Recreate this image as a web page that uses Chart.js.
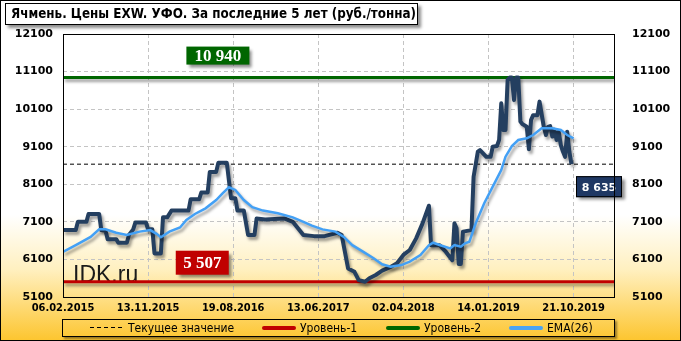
<!DOCTYPE html>
<html>
<head>
<meta charset="utf-8">
<script src="https://cdn.jsdelivr.net/npm/chart.js@4.4.0/dist/chart.umd.min.js"></script>
<style>
html, body { margin: 0; padding: 0; }
#wrap {
    position: relative; width: 681px; height: 341px; overflow: hidden;
    background: linear-gradient(to bottom, #ffffff 0%, #ffffff 63%, #fff0c0 79%, #fdc52e 100%);
    font-family: "DejaVu Sans Condensed", "DejaVu Sans", sans-serif;
}
#chart { position: absolute; left: 0; top: 0; }
#frame { position: absolute; inset: 0; border: 1px solid #000; box-sizing: border-box; pointer-events: none; }
#title {
    position: absolute; left: 5px; top: 3px; width: 413px; height: 22px; box-sizing: border-box;
    background: #fff; border: 1px solid #000; box-shadow: 3px 3px 3px rgba(0,0,0,0.45);
    font-weight: bold; font-size: 13.3px; line-height: 20px; padding-left: 5px; color: #000; white-space: nowrap;
}
#legend {
    position: absolute; left: 62px; top: 319px; width: 553px; height: 18px; box-sizing: border-box;
    border: 1px solid #000; box-shadow: 2px 2px 2px rgba(0,0,0,0.4);
    font-size: 12px; line-height: 16px; color: #000;
}
#legend .item { position: absolute; top: 0; white-space: nowrap; }
#legend .sw { display: inline-block; width: 34px; height: 4px; vertical-align: middle; margin-right: 4px; position: relative; top: -1px; border-radius: 2px; }
#legend .dash { height: 1px; border-radius: 0; background: repeating-linear-gradient(to right, #000 0 4px, transparent 4px 7px); }
</style>
</head>
<body>
<div id="wrap">
    <canvas id="chart" width="681" height="341"></canvas>
    <div id="title">Ячмень. Цены EXW. УФО. За последние 5 лет (руб./тонна)</div>
    <div id="legend">
        <span class="item" style="left:27px"><i class="sw dash"></i>Текущее значение</span>
        <span class="item" style="left:199px"><i class="sw" style="background:#c00000"></i>Уровень-1</span>
        <span class="item" style="left:323px"><i class="sw" style="background:#006600"></i>Уровень-2</span>
        <span class="item" style="left:446px"><i class="sw" style="background:#4aa3f2"></i>EMA(26)</span>
    </div>
    <div id="frame"></div>
</div>
<script>
// weekly index on x, a date label every 40 weeks
const dateLabels = ['06.02.2015', '13.11.2015', '19.08.2016', '13.06.2017', '02.04.2018', '14.01.2019', '21.10.2019'];
const lastWeek = 259;
const labelStep = 40;

const priceWeeks = [0, 6, 7, 11, 12, 17, 18, 20, 21, 25, 26, 30, 31, 33, 34, 39, 40, 42, 43, 46, 47, 49, 51, 59, 60, 64, 65, 68, 69, 72,
    73, 77, 79, 81, 82, 85, 87, 90, 91, 95, 104, 108, 113, 118, 123, 129, 131, 134, 137, 139, 142, 144, 147, 150, 154, 157, 160, 163, 166, 169,
    172, 173, 177, 180, 183, 184, 185, 186, 187, 188, 192, 193, 195, 196, 199, 201, 202, 204, 205, 206, 207, 208, 209, 210, 211, 212, 213, 214, 215, 216,
    218, 219, 220, 221, 223, 224, 226, 227, 228, 229, 230, 231, 232, 233, 234, 235, 236, 237, 238, 239];
const priceValues = [6880, 6880, 7100, 7100, 7310, 7310, 6880, 6860, 6640, 6640, 6545, 6545, 6750, 6900, 7080, 7080, 6900, 6900, 6260, 6260, 7220, 7220, 7400, 7400, 7700, 7700, 7880, 7880, 8430, 8430,
    8670, 8670, 7730, 7730, 7400, 7400, 6750, 6750, 7190, 7160, 7190, 7100, 6750, 6720, 6720, 6810, 6750, 5860, 5770, 5550, 5507, 5600, 5685, 5800, 5900, 6000, 6220, 6350, 6660, 7060,
    7530, 6480, 6480, 6300, 6080, 7060, 6930, 5980, 5980, 6840, 6880, 8300, 8970, 9010, 8830, 8830, 9100, 9120, 9280, 10255, 9545, 9545, 10880, 10940, 10940, 10340, 10940, 10940, 9770, 9700,
    9630, 9030, 9810, 9940, 9940, 10300, 9630, 9410, 9630, 9650, 9370, 9550, 9280, 9500, 9145, 8970, 8830, 9500, 8970, 8635];

const emaWeeks = [0, 6, 13, 17, 20, 25, 30, 36, 41, 44, 46, 50, 55, 58, 62, 67, 72, 75, 78, 81, 85, 89, 94, 101, 108, 113, 117, 122, 128, 132,
    136, 141, 146, 150, 154, 159, 163, 168, 172, 174, 177, 182, 184, 187, 189, 191, 194, 198, 202, 206, 208, 211, 214, 218, 221, 225, 230, 234, 237, 240];
const emaValues = [6300, 6480, 6700, 6900, 6900, 6810, 6750, 6840, 6880, 6780, 6690, 6840, 6950, 7150, 7310, 7460, 7680, 7860, 8020, 7950, 7680, 7490, 7400, 7330, 7220, 7100, 7000, 6900, 6840, 6700,
    6480, 6306, 6130, 5970, 5906, 5950, 6040, 6217, 6480, 6545, 6483, 6395, 6483, 6440, 6528, 6572, 7061, 7594, 8037, 8480, 8834, 9119, 9278, 9323, 9412, 9589, 9589, 9545, 9412, 9323];

const currentValue = 8635;
const level1 = 5507;
const level2 = 10940;

const yMin = 5100, yMax = 12100, yStep = 1000;

const toPoints = (xs, ys) => xs.map((x, i) => ({ x, y: ys[i] }));
const flatLine = v => [{ x: 0, y: v }, { x: lastWeek, y: v }];
const fmtSpace = v => String(v).replace(/\B(?=(\d{3})+(?!\d))/g, ' ');

const shadowPlugin = {
    id: 'shadow',
    beforeDatasetDraw(chart, args) {
        const ds = chart.data.datasets[args.index];
        if (!ds.shadow) return;
        const ctx = chart.ctx;
        ctx.save();
        ctx.shadowColor = 'rgba(0,0,0,0.38)';
        ctx.shadowBlur = 3;
        ctx.shadowOffsetX = 2;
        ctx.shadowOffsetY = 3;
    },
    afterDatasetDraw(chart, args) {
        if (chart.data.datasets[args.index].shadow) chart.ctx.restore();
    }
};

function tagBox(ctx, text, x, y, w, h, fill, font, border) {
    ctx.save();
    ctx.shadowColor = 'rgba(0,0,0,0.45)';
    ctx.shadowBlur = 3;
    ctx.shadowOffsetX = 3;
    ctx.shadowOffsetY = 3;
    ctx.fillStyle = fill;
    ctx.fillRect(x, y, w, h);
    ctx.restore();
    if (border) {
        ctx.strokeStyle = border;
        ctx.lineWidth = 1;
        ctx.strokeRect(x + 0.5, y + 0.5, w - 1, h - 1);
    }
    ctx.fillStyle = '#fff';
    ctx.font = font;
    ctx.textAlign = 'center';
    ctx.textBaseline = 'middle';
    ctx.fillText(text, x + w / 2, y + h / 2 + 1);
}

const labelPlugin = {
    id: 'labels',
    beforeDatasetsDraw(chart) {
        const { ctx, chartArea, scales } = chart;
        ctx.save();
        ctx.fillStyle = '#1a1a1a';
        ctx.font = '23px "Liberation Sans", Arial, sans-serif';
        ctx.textAlign = 'left';
        ctx.textBaseline = 'alphabetic';
        ctx.fillText('IDK.ru', chartArea.left + 10, scales.y.getPixelForValue(level1));
        ctx.restore();
    },
    afterDatasetsDraw(chart) {
        const { ctx, chartArea, scales } = chart;
        const serif = 'bold 17px "Liberation Serif", "Times New Roman", serif';
        ctx.save();
        const y2 = scales.y.getPixelForValue(level2);
        tagBox(ctx, fmtSpace(level2), scales.x.getPixelForValue(58), y2 - 31, 63, 18, '#006600', serif);
        const y1 = scales.y.getPixelForValue(level1);
        tagBox(ctx, fmtSpace(level1), scales.x.getPixelForValue(53), y1 - 31, 53, 24, '#c00000', serif);
        const yc = scales.y.getPixelForValue(currentValue);
        tagBox(ctx, fmtSpace(currentValue), chartArea.right - 38, yc + 12, 46, 21, '#1f3864', 'bold 11px "DejaVu Sans", sans-serif', '#000');
        ctx.strokeStyle = '#000';
        ctx.lineWidth = 1;
        ctx.strokeRect(Math.round(chartArea.left) + 0.5, Math.round(chartArea.top) + 0.5,
            Math.round(chartArea.right - chartArea.left), Math.round(chartArea.bottom - chartArea.top));
        ctx.restore();
    }
};

const xFont = { family: '"DejaVu Sans Condensed", "DejaVu Sans", sans-serif', size: 11, weight: 'bold' };
const yFont = { family: '"DejaVu Sans", sans-serif', size: 11, weight: 'bold' };
const yTicks = { min: yMin, max: yMax };

new Chart(document.getElementById('chart'), {
    type: 'line',
    data: {
        datasets: [
            { label: 'EMA(26)', data: toPoints(emaWeeks, emaValues), borderColor: '#43a0f5', borderWidth: 2.5, shadow: true },
            { label: 'Цена', data: toPoints(priceWeeks, priceValues), borderColor: '#243f60', borderWidth: 4, shadow: true, borderJoinStyle: 'round' },
            { label: 'Уровень-1', data: flatLine(level1), borderColor: '#c00000', borderWidth: 3, shadow: true },
            { label: 'Уровень-2', data: flatLine(level2), borderColor: '#006600', borderWidth: 3, shadow: true },
            { label: 'Текущее значение', data: flatLine(currentValue), borderColor: '#000', borderWidth: 1, borderDash: [4, 3] }
        ]
    },
    options: {
        responsive: false,
        animation: false,
        devicePixelRatio: 1,
        elements: { point: { radius: 0 }, line: { tension: 0 } },
        layout: { padding: { top: 34, left: 0, right: 0, bottom: 0 } },
        plugins: { legend: { display: false }, tooltip: { enabled: false } },
        scales: {
            x: {
                type: 'linear', min: 0, max: lastWeek,
                afterFit(s) { s.height = 44; },
                border: { display: false, dash: [4, 3] },
                grid: { color: '#c4c4c4', drawTicks: false },
                ticks: {
                    stepSize: labelStep, includeBounds: false, autoSkip: false, maxRotation: 0, padding: 5,
                    color: '#000', font: xFont,
                    callback: v => (v % labelStep === 0 ? dateLabels[v / labelStep] : '')
                }
            },
            y: {
                position: 'left', ...yTicks,
                afterFit(s) { s.width = 63; },
                border: { display: false, dash: [4, 3] },
                grid: { color: '#c4c4c4', drawTicks: false },
                ticks: { stepSize: yStep, padding: 10, color: '#000', font: yFont, callback: v => String(v) }
            },
            y1: {
                position: 'right', ...yTicks,
                afterFit(s) { s.width = 67; },
                border: { display: false },
                grid: { display: false },
                ticks: { stepSize: yStep, padding: 10, color: '#000', font: yFont, callback: v => String(v) }
            }
        }
    },
    plugins: [shadowPlugin, labelPlugin]
});
</script>
</body>
</html>
